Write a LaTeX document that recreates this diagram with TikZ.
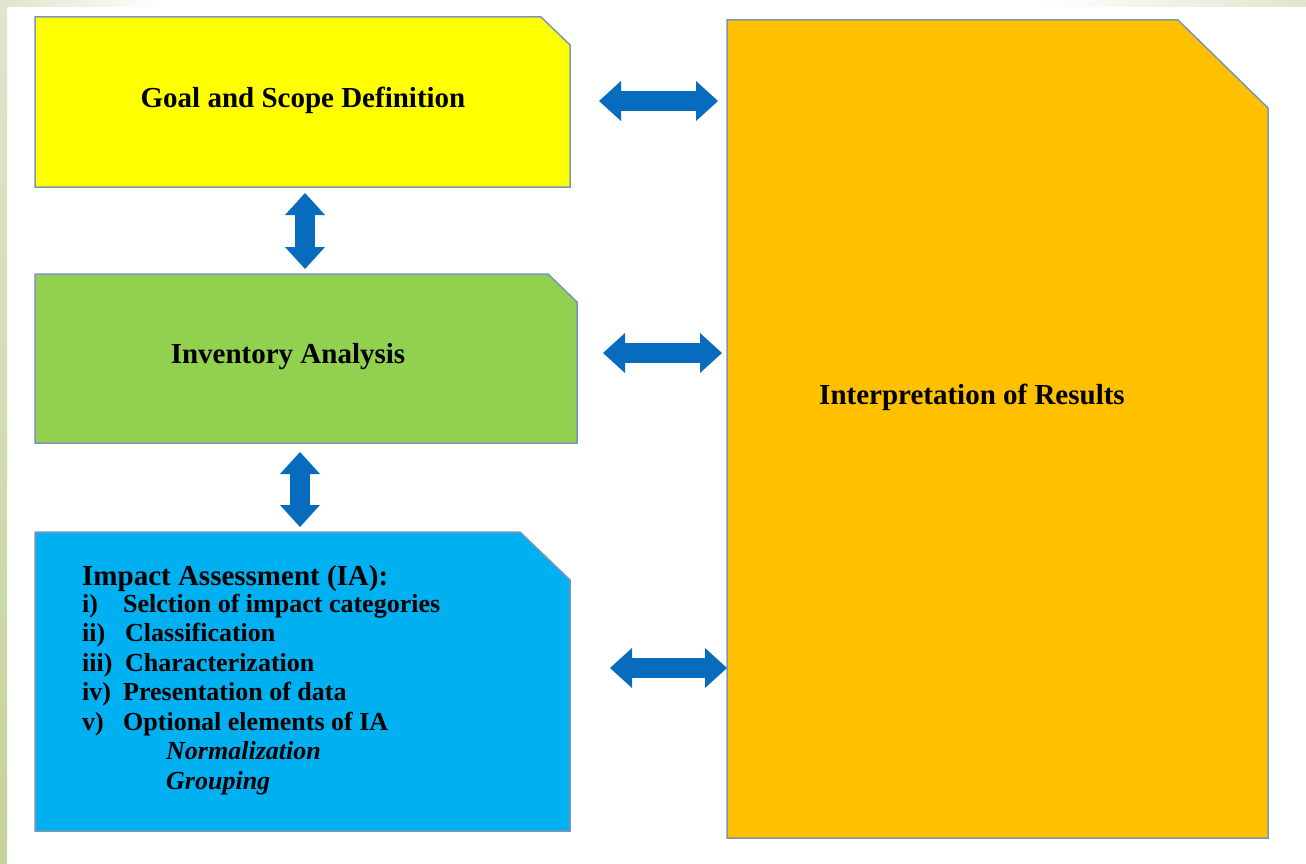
\documentclass[tikz,border=0pt]{standalone}
\usepackage{fontspec}
\setmainfont{Liberation Serif}
\usetikzlibrary{arrows.meta}
\definecolor{ylw}{RGB}{255,255,0}
\definecolor{grn}{RGB}{146,208,80}
\definecolor{blu}{RGB}{0,176,240}
\definecolor{org}{RGB}{255,192,0}
\definecolor{arr}{RGB}{8,108,190}
\definecolor{edge}{RGB}{122,150,182}
\definecolor{stripeA}{RGB}{222,230,205}
\definecolor{stripeB}{RGB}{196,211,152}
\tikzset{
  area/.style={inner sep=0pt, outer sep=0pt},
  boxline/.style={draw=edge, line width=1.5pt, line join=miter},
  dbl/.style={draw=arr, line width=20pt,
    {Triangle[width=40pt,length=22pt,line width=0pt]}-{Triangle[width=40pt,length=22pt,line width=0pt]}},
  big/.style={inner sep=0pt, anchor=base, font=\bfseries\fontsize{29}{34}\selectfont},
  ia/.style={inner sep=0pt, anchor=base west, font=\bfseries\fontsize{26}{30}\selectfont},
  iahead/.style={inner sep=0pt, anchor=base west, font=\bfseries\fontsize{29}{34}\selectfont},
  iait/.style={inner sep=0pt, anchor=base west, font=\bfseries\itshape\fontsize{26}{30}\selectfont}
}
\begin{document}
\begin{tikzpicture}[x=1pt,y=-1pt]
\useasboundingbox (0,0) rectangle (1306,864);
\fill[white] (0,0) rectangle (1306,864);
% background stripes
\shade[top color=stripeA, bottom color=stripeB] (0,0) rectangle (7,864);
\shade[left color=stripeA, right color=white] (7,0) rectangle (160,7);
\shade[left color=white, right color=stripeA] (1040,0) rectangle (1306,7);

% box areas
\node[area, minimum width=535pt, minimum height=170pt] (goal) at (302.5,102) {};
\node[area, minimum width=542pt, minimum height=169pt] (inv) at (306,358.5) {};
\node[area, minimum width=535pt, minimum height=299pt] (ia) at (302.5,681.5) {};
\node[area, minimum width=541pt, minimum height=818pt] (interp) at (997.5,429) {};

% box outlines with cut corners
\draw[boxline, fill=ylw] (goal.south west) -- (goal.north west) -- ([xshift=-29pt]goal.north east)
  -- ([yshift=-28pt]goal.north east) -- (goal.south east) -- cycle;
\draw[boxline, fill=grn] (inv.south west) -- (inv.north west) -- ([xshift=-29pt]inv.north east)
  -- ([yshift=-28pt]inv.north east) -- (inv.south east) -- cycle;
\draw[boxline, fill=blu] (ia.south west) -- (ia.north west) -- ([xshift=-50pt]ia.north east)
  -- ([yshift=-48pt]ia.north east) -- (ia.south east) -- cycle;
\draw[boxline, fill=org] (interp.south west) -- (interp.north west) -- ([xshift=-90pt]interp.north east)
  -- ([yshift=-88pt]interp.north east) -- (interp.south east) -- cycle;

% texts
\node[big] (goaltxt) at (303,108) {Goal and Scope Definition};
\node[big] (invtxt) at (288,363) {Inventory Analysis};
\node[big] (interptxt) at (972,404) {Interpretation of Results};

\node[iahead] (iahd) at (82,585) {Impact Assessment (IA):};
\node[ia] (l1) at (82,612) {i)};
\node[ia] (t1) at (123,612) {Selction of impact categories};
\node[ia] (l2) at (82,641.5) {ii)};
\node[ia] (t2) at (125,641.5) {Classification};
\node[ia] (l3) at (82,671) {iii)};
\node[ia] (t3) at (125,671) {Characterization};
\node[ia] (l4) at (82,700.5) {iv)};
\node[ia] (t4) at (123,700.5) {Presentation of data};
\node[ia] (l5) at (82,730) {v)};
\node[ia] (t5) at (123,730) {Optional elements of IA};
\node[iait] (t6) at (166,759.5) {Normalization};
\node[iait] (t7) at (166,789) {Grouping};

% double arrows
\draw[dbl, shorten <=29pt, shorten >=9pt] ([yshift=1pt]goal.east) -- ([yshift=1pt]goal.east -| interp.west);
\draw[dbl, shorten <=26pt, shorten >=5pt] ([yshift=5.5pt]inv.east) -- ([yshift=5.5pt]inv.east -| interp.west);
\draw[dbl, shorten <=40pt, shorten >=0pt] ([yshift=13.5pt]ia.east) -- ([yshift=13.5pt]ia.east -| interp.west);
\draw[dbl, shorten <=6pt, shorten >=5pt] ([xshift=2.5pt]goal.south) -- ([xshift=2.5pt]goal.south |- inv.north);
\draw[dbl, shorten <=9pt, shorten >=5pt] ([xshift=-6pt]inv.south) -- ([xshift=-6pt]inv.south |- ia.north);
\end{tikzpicture}
\end{document}
